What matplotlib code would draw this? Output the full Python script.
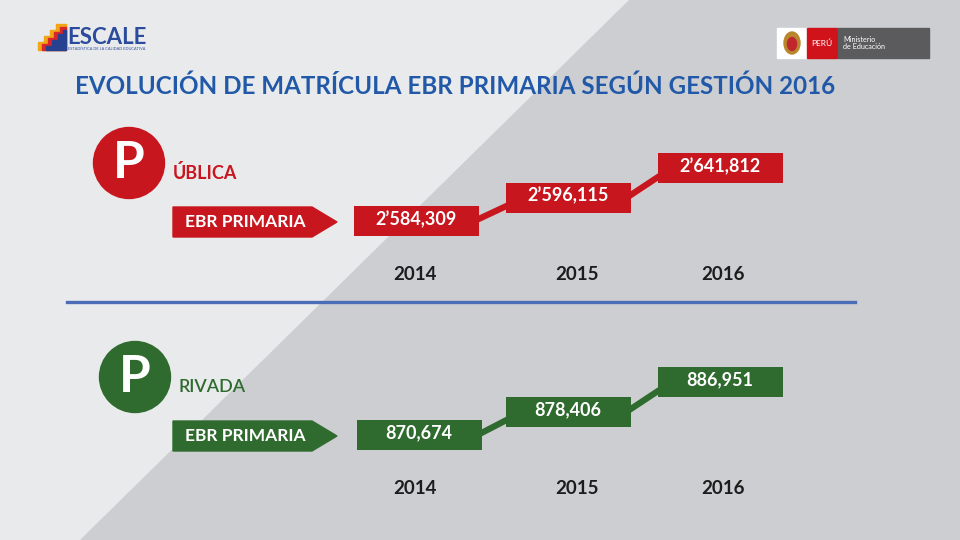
import matplotlib.pyplot as plt
from matplotlib.patches import Polygon, Circle, Rectangle, Ellipse

# datos
years = ["2014", "2015", "2016"]
publica = [2584309, 2596115, 2641812]
privada = [870674, 878406, 886951]
title = "EVOLUCIÓN DE MATRÍCULA EBR PRIMARIA SEGÚN GESTIÓN 2016"

RED = "#C8161E"
GREEN = "#2F6B2F"
BLUE = "#2159A8"

plt.rcParams["font.family"] = ["Lato", "DejaVu Sans"]


def fmt(v):
    # 2’584,309 / 870,674
    m, rest = divmod(v, 1000000)
    s = f"{rest:,}" if m == 0 else f"{m}’{rest:06,}"
    return s


fig = plt.figure(figsize=(9.6, 5.4), dpi=100)
ax = fig.add_axes([0, 0, 1, 1])
ax.set_xlim(0, 960)
ax.set_ylim(540, 0)
ax.axis("off")

# fondo
ax.add_patch(Rectangle((0, 0), 960, 540, color="#E9EAEC", zorder=0))
ax.add_patch(Polygon([(629, 0), (960, 0), (960, 540), (80, 540)],
                     closed=True, color="#CDCED2", zorder=0))

# logo ESCALE
ax.add_patch(Polygon([(38, 50), (38, 42), (44, 42), (44, 36), (50, 36), (50, 30),
                      (56, 30), (56, 24), (66, 24), (66, 50)], color="#F2A516", zorder=1))
ax.add_patch(Polygon([(42, 50), (42, 44), (48, 44), (48, 38), (54, 38), (54, 32),
                      (60, 32), (60, 27), (66, 27), (66, 50)], color="#D8262A", zorder=1))
ax.add_patch(Polygon([(46, 50), (46, 46), (52, 46), (52, 40), (58, 40), (58, 34),
                      (63, 34), (63, 30), (66, 30), (66, 50)], color="#26418F", zorder=1))
ax.text(67, 37, "ESCALE", color="#2B4C9C", fontsize=16, fontweight="bold",
        va="center", ha="left")
ax.text(68, 49.5, "ESTADÍSTICA DE LA CALIDAD EDUCATIVA", color="#2B4C9C",
        fontsize=2.8, va="center", ha="left")

# logo Ministerio
ax.add_patch(Rectangle((777, 28), 30, 30, color="white", zorder=1))
ax.add_patch(Ellipse((792, 43), 16, 22, color="#B8862B", zorder=2))
ax.add_patch(Ellipse((792, 44), 9, 13, color="#C0272D", zorder=3))
ax.add_patch(Rectangle((807, 28), 30, 30, color="#D0121B", zorder=1))
ax.add_patch(Rectangle((838, 28), 91, 30, color="#5B5B5D", zorder=1))
ax.text(822, 43, "PERÚ", color="white", fontsize=6, ha="center", va="center")
ax.text(843, 43, "Ministerio\nde Educación", color="white", fontsize=5.2,
        ha="left", va="center", linespacing=1.0)

# título
ax.text(75, 86, title, color=BLUE, fontsize=17.4, fontweight="bold",
        ha="left", va="center")

# separador
ax.plot([67, 855], [302, 302], color="#4B6CB7", lw=2.4, zorder=2)

box_w, box_h = 125, 30
box_y = [221, 197.5, 168]
year_x = [415, 577, 723]


def panel(values, color, word, dy, cx, box_x, word_weight):
    # círculo con la P
    ax.add_patch(Circle((cx, 163 + dy), 35.5, color=color, zorder=2))
    ax.text(cx, 163 + dy, "P", color="white", fontsize=37, fontweight="bold",
            ha="center", va="center", zorder=3)
    ax.text(cx + 44, 173 + dy, word, color=color, fontsize=13, fontweight=word_weight,
            ha="left", va="center")
    # flecha EBR PRIMARIA
    ax.add_patch(Polygon([(173, 207 + dy), (312, 207 + dy), (337, 222 + dy),
                          (312, 237 + dy), (173, 237 + dy)], color=color, zorder=2))
    ax.text(245, 222 + dy, "EBR PRIMARIA", color="white", fontsize=12.5,
            fontweight="bold", ha="center", va="center", zorder=3)
    ys = [y + dy for y in box_y]
    # conectores
    for i in range(len(values) - 1):
        ax.plot([box_x[i] + box_w / 2 - 2, box_x[i + 1] - box_w / 2 + 2],
                [ys[i] - 1, ys[i + 1] + 8], color=color, lw=4.5,
                solid_capstyle="butt", zorder=2)
    ax.bar(box_x, [box_h] * len(values), bottom=[y - box_h / 2 for y in ys],
           width=box_w, color=color, zorder=3)
    for x, y, v in zip(box_x, ys, values):
        ax.text(x, y - 2, fmt(v), color="white", fontsize=13, fontweight="bold",
                ha="center", va="center", zorder=4)
    for x, yr in zip(year_x, years):
        ax.text(x, 274 + dy, yr, color="#1C1C1C", fontsize=13.5, fontweight="bold",
                ha="center", va="center")


panel(publica, RED, "ÚBLICA", 0, 129, [416, 568, 720], "bold")
panel(privada, GREEN, "RIVADA", 214, 135, [419, 568, 720], "semibold")

fig.savefig("out.png", dpi=100)
